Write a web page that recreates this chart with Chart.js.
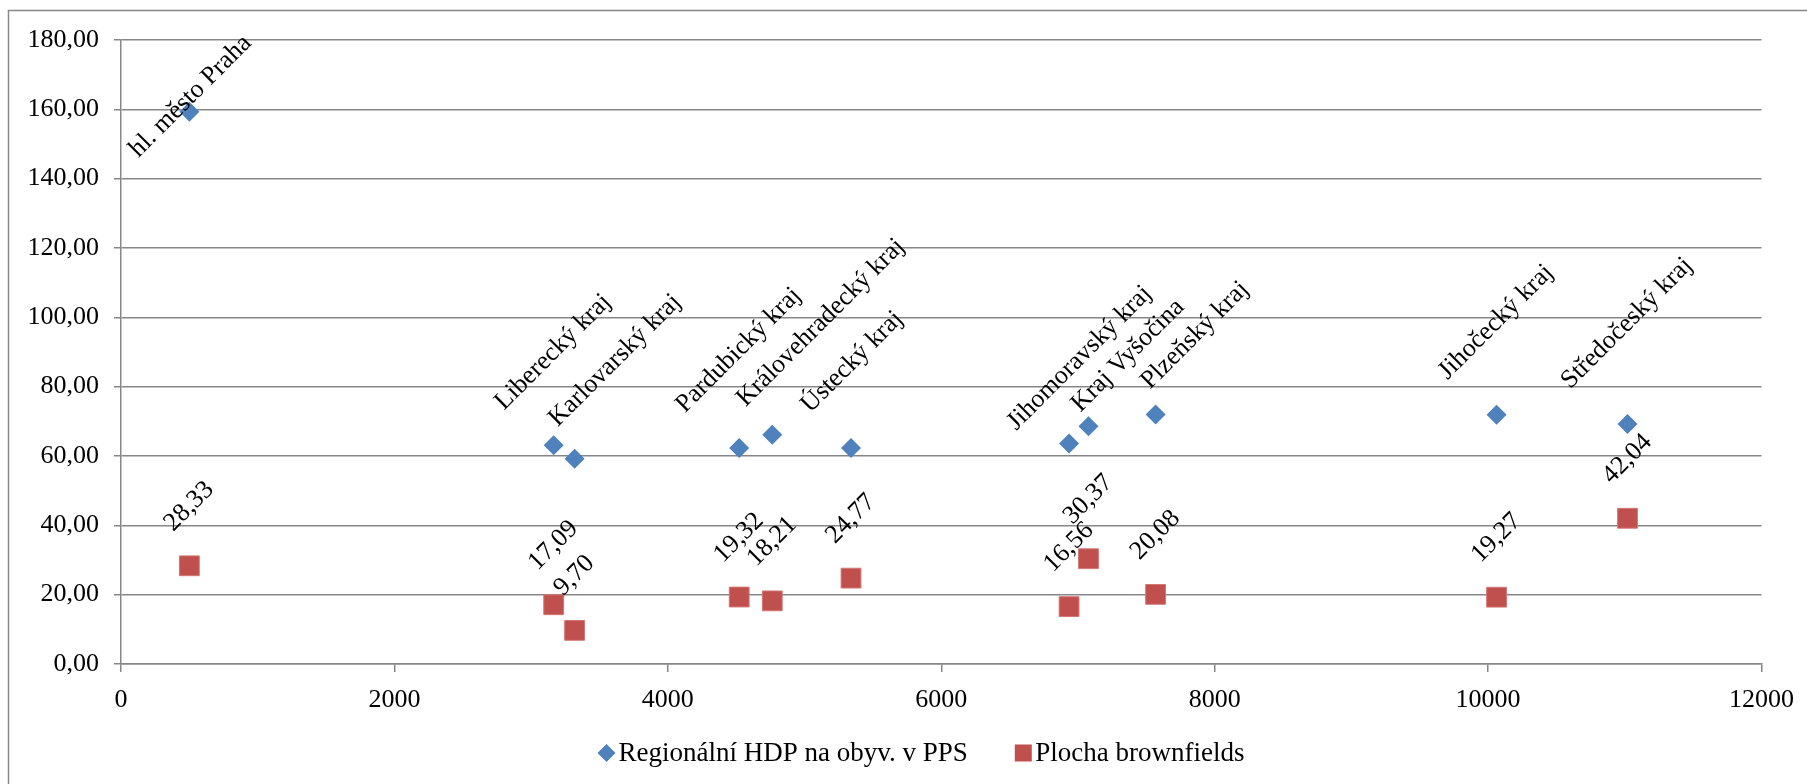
<!DOCTYPE html>
<html lang="cs">
<head>
<meta charset="utf-8">
<title>Regionální HDP a plocha brownfields</title>
<script src="https://cdn.jsdelivr.net/npm/chart.js@4.4.1/dist/chart.umd.min.js"></script>
<style>
    html, body { margin: 0; padding: 0; background: #fff; }
    #wrap { width: 1807px; height: 784px; }
</style>
</head>
<body>
<div id="wrap"><canvas id="chart" width="1807" height="784"></canvas></div>
<script>
// Data
const regions = [
    'hl. město Praha', 'Liberecký kraj', 'Karlovarský kraj', 'Pardubický kraj',
    'Královehradecký kraj', 'Ústecký kraj', 'Jihomoravský kraj', 'Kraj Vyšočina',
    'Plzeňský kraj', 'Jihočecký kraj', 'Středočeský kraj'
];
const xValues = [500, 3165, 3318, 4522, 4764, 5340, 6935, 7077, 7568, 10062, 11020];
const hdpValues = [159.3, 63.1, 59.2, 62.3, 66.1, 62.3, 63.6, 68.6, 72.0, 71.9, 69.2];
const brownfieldValues = [28.33, 17.09, 9.70, 19.32, 18.21, 24.77, 16.56, 30.37, 20.08, 19.27, 42.04];
const seriesNames = ['Regionální HDP na obyv. v PPS', 'Plocha brownfields'];

// Labels that were moved by hand in the original (px)
const nameLabelShift = [[0, 0], [0, 0], [41, 3], [0, 0], [49, 7], [0, 0], [11, 22], [40, 21], [40, 10], [0, 0], [0, 0]];

const BLUE = '#4F81BD';
const RED = '#C0504D';
const GRID = '#878787';
const FONT_FAMILY = '"Liberation Serif", "Times New Roman", serif';
const FONT_SIZE = 26;

// Czech number format, e.g. 28,33
function formatCz(v) {
    return v.toFixed(2).replace('.', ',');
}

function drawDiamond(ctx, x, y, r, color) {
    ctx.fillStyle = color;
    ctx.beginPath();
    ctx.moveTo(x, y - r);
    ctx.lineTo(x + r, y);
    ctx.lineTo(x, y + r);
    ctx.lineTo(x - r, y);
    ctx.closePath();
    ctx.fill();
}

// Outer frame of the chart
const framePlugin = {
    id: 'frame',
    beforeDraw(chart) {
        const ctx = chart.ctx;
        ctx.save();
        ctx.fillStyle = '#fff';
        ctx.fillRect(0, 0, chart.width, chart.height);
        ctx.strokeStyle = GRID;
        ctx.lineWidth = 1.5;
        ctx.strokeRect(8.5, 10.5, chart.width + 20, chart.height + 20);
        ctx.restore();
    }
};

// Rotated data labels above each point
const pointLabelPlugin = {
    id: 'pointLabels',
    afterDatasetsDraw(chart) {
        const ctx = chart.ctx;
        const labelGap = 31;
        const labelMinTop = 32;
        ctx.save();
        ctx.font = FONT_SIZE + 'px ' + FONT_FAMILY;
        ctx.fillStyle = '#000';
        ctx.textAlign = 'center';
        ctx.textBaseline = 'alphabetic';
        chart.data.datasets.forEach((ds, di) => {
            chart.getDatasetMeta(di).data.forEach((pt, i) => {
                const text = di === 0 ? regions[i] : formatCz(brownfieldValues[i]);
                const m = ctx.measureText(text);
                const asc = m.actualBoundingBoxAscent;
                const desc = m.actualBoundingBoxDescent;
                const size = (m.width + asc + desc) * Math.SQRT1_2;
                const shift = di === 0 ? nameLabelShift[i] : [0, 0];
                const cx = pt.x + shift[0];
                let cy = pt.y - labelGap - size / 2 + shift[1];
                if (cy - size / 2 < labelMinTop) {
                    cy = labelMinTop + size / 2;
                }
                ctx.save();
                ctx.translate(cx, cy);
                ctx.rotate(-Math.PI / 4);
                ctx.fillText(text, 0, (asc - desc) / 2);
                ctx.restore();
            });
        });
        ctx.restore();
    }
};

// Legend under the axis, laid out like the Excel one
const legendPlugin = {
    id: 'bottomLegend',
    afterDraw(chart) {
        const ctx = chart.ctx;
        const centerX = 921;
        const y = 753;
        const markerGap = 12;
        const itemGap = 47;
        ctx.save();
        ctx.font = '27px ' + FONT_FAMILY;
        ctx.textBaseline = 'middle';
        ctx.textAlign = 'left';
        const w1 = ctx.measureText(seriesNames[0]).width;
        const w2 = ctx.measureText(seriesNames[1]).width;
        const total = 9 + markerGap + w1 + itemGap + 8.5 + markerGap + w2;
        let x = centerX - total / 2;

        drawDiamond(ctx, x + 9, y, 9, BLUE);
        x += 9 + markerGap;
        ctx.fillStyle = '#000';
        ctx.fillText(seriesNames[0], x, y + 1);
        x += w1 + itemGap;

        ctx.fillStyle = RED;
        ctx.fillRect(x, y - 8.5, 17, 17);
        x += 8.5 + markerGap;
        ctx.fillStyle = '#000';
        ctx.fillText(seriesNames[1], x, y + 1);
        ctx.restore();
    }
};

const ctx = document.getElementById('chart');
const chart = new Chart(ctx, {
    type: 'scatter',
    data: {
        datasets: [{
            label: seriesNames[0],
            data: xValues.map((x, i) => ({x: x, y: hdpValues[i]})),
            pointStyle: 'rectRot',
            pointRadius: 10,
            backgroundColor: BLUE,
            borderColor: BLUE,
            borderWidth: 0
        }, {
            label: seriesNames[1],
            data: xValues.map((x, i) => ({x: x, y: brownfieldValues[i]})),
            pointStyle: 'rect',
            pointRadius: 14,
            backgroundColor: RED,
            borderColor: '#d27774',
            borderWidth: 1
        }]
    },
    options: {
        responsive: false,
        animation: false,
        events: [],
        layout: {
            padding: {top: 40, right: 44, left: 0, bottom: 0}
        },
        plugins: {
            tooltip: {enabled: false},
            legend: {display: false}
        },
        scales: {
            x: {
                type: 'linear',
                min: 0,
                max: 12000,
                afterFit(scale) { scale.height = 120; },
                ticks: {
                    stepSize: 2000,
                    padding: 13,
                    color: '#000',
                    font: {family: FONT_FAMILY, size: FONT_SIZE},
                    callback: v => String(v)
                },
                grid: {
                    drawOnChartArea: false,
                    drawTicks: true,
                    tickLength: 8,
                    color: GRID,
                    lineWidth: 1.5
                },
                border: {color: GRID, width: 1.5}
            },
            y: {
                min: 0,
                max: 180,
                afterFit(scale) { scale.width = 121; },
                ticks: {
                    stepSize: 20,
                    padding: 15,
                    color: '#000',
                    font: {family: FONT_FAMILY, size: FONT_SIZE},
                    callback: v => formatCz(v)
                },
                grid: {
                    color: GRID,
                    lineWidth: 1.5,
                    tickLength: 7
                },
                border: {color: GRID, width: 1.5}
            }
        }
    },
    plugins: [framePlugin, pointLabelPlugin, legendPlugin]
});
</script>
</body>
</html>
